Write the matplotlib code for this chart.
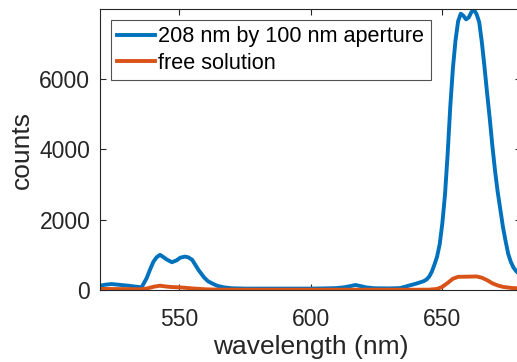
import matplotlib
matplotlib.use("Agg")
import matplotlib.pyplot as plt

# Emission spectrum through the nanoaperture (nm, counts)
aperture_wl = [520, 522, 524.4, 527, 530.8, 533, 535.8, 537.7, 539, 540.3, 541.5,
               542.8, 544, 545.3, 547.3, 549, 550.5, 552.3, 553.5, 555, 557.4,
               559.5, 561, 562.5, 564.5, 567, 570, 575, 580, 590, 600, 605, 610,
               613, 615, 617, 619, 621, 624, 630, 634, 636.6, 640, 642.9, 644,
               645, 646, 647, 648, 649, 650, 651, 652, 653, 654, 655, 656, 657,
               658, 659, 660, 661, 661.9, 663, 664, 665, 666, 667, 668, 669, 670,
               671, 672, 673, 674, 675, 676, 677, 678, 680]
aperture_counts = [122, 150, 170, 150, 122, 100, 76, 333, 580, 805, 930,
                   1000, 940, 870, 790, 840, 920, 950, 930, 860, 570,
                   360, 250, 190, 120, 75, 50, 40, 40, 40, 40, 45, 55,
                   80, 110, 142, 110, 75, 50, 45, 55, 110, 180, 250, 300,
                   380, 520, 720, 950, 1300, 1900, 2700, 3850, 5200, 6300, 7100, 7650, 7860,
                   7800, 7700, 7750, 7900, 7985, 7850, 7620, 7050, 6350, 5600, 4880, 4100, 3400,
                   2800, 2300, 1800, 1400, 1030, 800, 640, 540, 400]

# Reference spectrum in free solution (nm, counts)
solution_wl = [520, 530, 535.8, 538, 540.5, 542.8, 545, 547, 549.8, 552, 555,
               559.9, 565, 580, 600, 620, 640, 645, 648, 650, 652, 654, 656,
               660, 663, 665, 667, 669, 671, 673, 676, 680]
solution_counts = [30, 25, 20, 45, 95, 122, 100, 85, 76, 65, 45,
                   20, 10, 8, 8, 8, 8, 10, 30, 90, 200, 320, 375,
                   380, 385, 350, 280, 190, 130, 90, 60, 40]

series_labels = ["208 nm by 100 nm aperture", "free solution"]
x_ticks = [550, 600, 650]
y_ticks = [0, 2000, 4000, 6000]

text_color = "#262626"
plt.rcParams["font.family"] = ["Liberation Sans", "DejaVu Sans"]

fig = plt.figure(figsize=(5.17, 3.62), dpi=100)
ax = fig.add_axes([0.1934, 0.1989, 0.815, 0.7754])

ax.plot(aperture_wl, aperture_counts, color="#0072BD", lw=2.8,
        label=series_labels[0], solid_joinstyle="round")
ax.plot(solution_wl, solution_counts, color="#D95319", lw=2.8,
        label=series_labels[1], solid_joinstyle="round")

ax.set_xlim(520, 680)
ax.set_ylim(0, max(aperture_counts))
ax.set_xticks(x_ticks)
ax.set_yticks(y_ticks)

ax.tick_params(direction="in", length=4, width=0.8, top=True, right=True,
               labelsize=16.5, colors=text_color)
ax.tick_params(axis="x", pad=13)
ax.tick_params(axis="y", pad=7)
for sp in ax.spines.values():
    sp.set_color(text_color)
    sp.set_linewidth(0.8)

ax.set_xlabel("wavelength (nm)", fontsize=19, color=text_color, labelpad=3)
ax.set_ylabel("counts", fontsize=19, color=text_color, labelpad=4)

leg = ax.legend(loc="upper left", bbox_to_anchor=(0.025, 0.963),
                borderaxespad=0, fontsize=15.6, handlelength=1.75,
                handletextpad=0.15, borderpad=0.3, labelspacing=0.25,
                fancybox=False, frameon=True)
leg.get_frame().set_edgecolor(text_color)
leg.get_frame().set_linewidth(0.8)
for t in leg.get_texts():
    t.set_color("black")

fig.savefig("out.png", dpi=100)
